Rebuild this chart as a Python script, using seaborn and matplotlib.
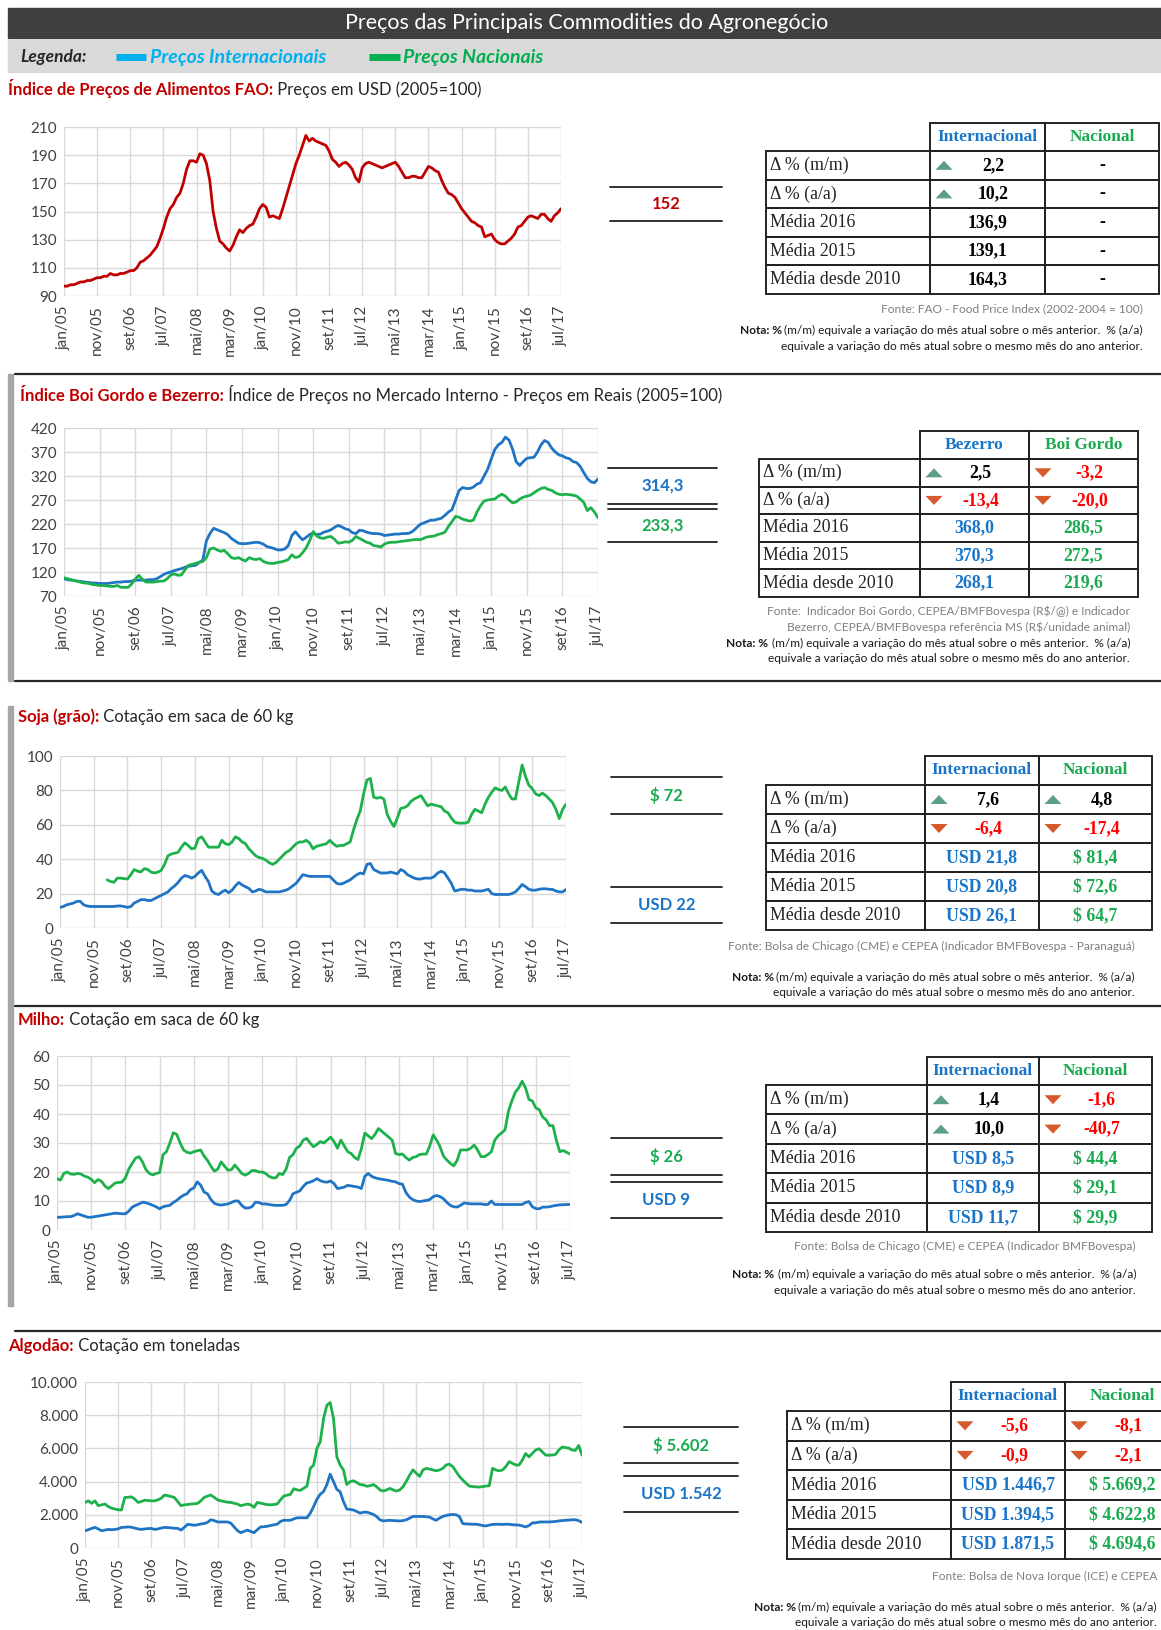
import numpy as np
import pandas as pd
import matplotlib
matplotlib.use("Agg")
import matplotlib.pyplot as plt
from matplotlib.patches import Rectangle, Polygon
import seaborn as sns

sns.set_style("white")
plt.rcParams["font.family"] = ["Lato", "DejaVu Sans"]

W, H = 1161, 1630

# ---------------- data ----------------
meses = ["jan/05", "nov/05", "set/06", "jul/07", "mai/08", "mar/09", "jan/10", "nov/10",
         "set/11", "jul/12", "mai/13", "mar/14", "jan/15", "nov/15", "set/16", "jul/17"]

fao = [97, 97, 98, 98, 99, 100, 100, 101, 101, 102, 103, 103,
       104, 104, 106, 105, 105, 106, 106, 107, 108, 108, 110, 114,
       115, 117, 119, 122, 125, 131, 138, 146, 152, 155, 160, 163,
       170, 180, 186, 186, 185, 191, 190, 184, 172, 150, 138, 129,
       127, 124, 122, 126, 132, 137, 135, 138, 140, 141, 146, 152,
       155, 153, 146, 147, 146, 145, 152, 160, 168, 176, 184, 190,
       197, 204, 200, 202, 200, 199, 198, 197, 193, 187, 185, 182,
       184, 185, 183, 180, 174, 171, 181, 184, 185, 184, 183, 182,
       181, 182, 183, 184, 185, 182, 178, 174, 174, 175, 175, 174,
       174, 178, 182, 181, 179, 178, 172, 167, 163, 162, 160, 156,
       152, 149, 146, 143, 142, 140, 139, 132, 133, 134, 130, 128,
       127, 127, 129, 131, 134, 139, 140, 143, 146, 147, 146, 145,
       148, 148, 145, 143, 147, 149, 152]

bezerro = [106, 104, 103, 102, 101, 100, 99, 98, 97, 97, 96, 96,
           96, 97, 98, 99, 99, 100, 100, 101, 103, 103, 103, 103,
           104, 104, 106, 110, 115, 118, 120, 123, 125, 127, 130, 132,
           133, 134, 140, 145, 185, 200, 211, 208, 205, 202, 198, 190,
           185, 180, 179, 179, 180, 181, 182, 181, 178, 173, 171, 169,
           166, 166, 168, 175, 196, 204, 195, 187, 192, 198, 201, 198,
           199, 203, 205, 208, 213, 217, 214, 210, 208, 202, 200, 207,
           206, 203, 201, 200, 200, 199, 196, 197, 198, 199, 199, 200,
           200, 201, 205, 212, 219, 222, 225, 228, 228, 230, 232, 238,
           245, 250, 270, 290, 296, 294, 294, 297, 303, 306, 320, 334,
           355, 375, 385, 390, 401, 395, 376, 350, 342, 350, 357, 358,
           359, 370, 385, 394, 390, 378, 370, 364, 362, 358, 356, 350,
           348, 340, 327, 315, 308, 306, 314]

boi_gordo = [108, 106, 104, 102, 100, 98, 97, 96, 94, 93, 92, 92,
             91, 90, 90, 92, 88, 88, 88, 95, 105, 113, 105, 99,
             99, 99, 100, 101, 101, 106, 114, 116, 113, 114, 125, 134,
             136, 138, 140, 142, 150, 168, 170, 166, 163, 165, 158, 150,
             148, 150, 146, 143, 150, 147, 146, 148, 142, 139, 138, 138,
             140, 141, 143, 146, 156, 150, 152, 160, 170, 185, 204, 195,
             191, 190, 193, 194, 188, 180, 181, 183, 182, 186, 194, 190,
             186, 182, 180, 175, 174, 172, 178, 181, 182, 182, 183, 184,
             185, 186, 187, 188, 187, 190, 193, 194, 195, 198, 200, 203,
             215, 225, 236, 234, 230, 228, 226, 228, 245, 258, 268, 270,
             271, 272, 278, 282, 278, 270, 264, 266, 272, 276, 278, 280,
             285, 290, 294, 296, 292, 290, 285, 282, 281, 282, 281, 280,
             278, 272, 265, 248, 254, 245, 233]

soja_int = [12, 12.5, 13.5, 14, 14.5, 15.5, 15.5, 13.5, 12.8, 12.5, 12.5, 12.5,
            12.5, 12.5, 12.5, 12.5, 12.5, 12.8, 12.8, 12.5, 12, 12.5, 14.5, 15.5,
            16.5, 16.5, 16, 16, 17, 18, 19, 20, 21, 23, 24.5, 26.5,
            29, 30.5, 30, 29, 30, 32, 33.5, 30, 27, 21.5, 20, 19.5,
            21, 22, 20.5, 22, 24.5, 26.5, 25, 24, 23, 21, 21.5, 22.5,
            22, 21, 21, 21, 21, 21, 21.5, 22, 23, 24.5, 26, 28.5,
            31, 30.5, 30, 30, 30, 30, 30, 30, 30, 28, 26, 25.5,
            26, 27, 28, 29.5, 31, 32, 31.5, 37, 37.5, 34, 33, 32,
            32, 32, 32.5, 32, 31.5, 34, 33, 31, 30, 29, 28.5, 28.5,
            29, 29, 29, 30, 32, 33, 32, 29, 26, 21.5, 22, 22.5,
            22.5, 22, 22, 21.5, 21.5, 21.5, 22, 22.5, 20, 19.5, 19.5, 19.5,
            19.5, 19.5, 20, 21, 23, 25.3, 24, 22.5, 22, 22, 22.5, 22.8,
            22.8, 22.5, 22.4, 21.5, 21, 21, 22.4]

soja_nac = [np.nan] * 14 + [
            28, 27, 26.6, 29, 29, 28.7, 28.5, 31, 34, 33,
            32.6, 34.5, 34, 32.5, 32, 32.5, 33.5, 37, 42, 43, 43.5, 44,
            47, 49.5, 48, 46, 46.5, 52, 53, 50, 47, 47, 47, 47,
            51, 49, 48.5, 50, 53, 52, 50, 49, 46, 44, 42, 41,
            40.5, 39.5, 38, 37, 38, 40, 42, 44, 45, 47, 49, 50,
            50, 51, 49.5, 46, 47.5, 48, 48.5, 49, 51, 49, 47.5, 48,
            48, 49, 50, 57, 63, 68, 78, 86, 87, 76, 75.5, 76,
            75, 66, 62, 59, 64, 69.5, 70, 71, 73.5, 75, 76, 77,
            74, 71, 72, 71.5, 71, 70.5, 68, 67, 64, 61.5, 61, 61,
            61, 61.5, 66, 69, 68, 67, 72, 76, 79, 81.5, 80.5, 80,
            82, 78, 75, 75, 85, 94.8, 88, 83, 81, 78, 77, 78.4,
            77, 75, 73, 69, 63.6, 69, 72]

milho_int = [4.4, 4.4, 4.5, 4.6, 4.6, 5, 5.6, 5.2, 4.8, 4.4, 4.4, 4.6,
             4.8, 5, 5.2, 5.4, 5.6, 5.8, 5.7, 5.6, 5.6, 6.5, 7.9, 8.5,
             9, 9.6, 9.4, 9, 8.5, 8, 7.3, 8, 8.3, 8.5, 9.5, 10.2,
             11.2, 12, 12.5, 13.9, 14.5, 16.6, 15.5, 13.1, 12.5, 10.5, 9.2, 8.8,
             8.6, 8.8, 9, 9.5, 10, 10, 8.5, 7.6, 7.6, 8, 9.6, 9.5,
             9, 9, 8.8, 8.6, 8.5, 8.5, 8.5, 8.8, 10.2, 12.5, 13, 13.5,
             15, 16.2, 16.5, 17, 17.7, 17, 16.6, 16.5, 16.9, 16, 14.3, 14.5,
             14.8, 15.4, 15.2, 15, 14.8, 14.3, 18.5, 19.5, 18.5, 18, 17.7, 17.5,
             17.3, 17.1, 16.8, 16.6, 16, 15.8, 13, 11.4, 10.5, 10, 9.8, 10,
             10.2, 10.5, 11.5, 11.9, 11.5, 10.8, 9.5, 8.5, 8, 7.9, 8.5, 9.3,
             9.2, 9, 9, 9, 9, 8.8, 8.8, 10, 8.8, 8.8, 8.8, 8.8,
             8.8, 8.8, 8.8, 8.8, 8.8, 9.5, 9.8, 8, 7.4, 7.3, 7.9, 7.9,
             8, 8.3, 8.5, 8.7, 8.7, 8.8, 8.8]

milho_nac = [17.7, 17.2, 19.5, 20, 19.3, 19.2, 19.5, 19.3, 18.6, 18.2, 17.5, 16.3,
             17.4, 16.8, 15.2, 14.3, 15.2, 16.2, 16.4, 16.5, 18, 21, 23, 24.8,
             25.3, 23.5, 20.8, 19.5, 19, 19.5, 19.8, 26, 27, 30, 33.5, 33,
             30, 27.6, 26.8, 26.5, 27, 27.3, 27.6, 25.5, 24, 22, 20.3, 21,
             23.5, 22, 20.6, 20.8, 22.4, 21, 19.5, 18.9, 19.5, 20.5, 20.5, 20,
             20, 19.5, 18.5, 18, 18, 19.5, 19.1, 21, 25, 26, 28.2, 29,
             31, 31.6, 30, 28.7, 29.5, 30.5, 30, 31, 32, 30.5, 28.2, 31,
             29, 27, 26.4, 25, 24.3, 28, 33.4, 32.5, 31.5, 33, 35, 34,
             33, 32, 31, 26.4, 26, 26.2, 25, 24.1, 25, 25.3, 26, 26.2,
             26.2, 29, 32.8, 31, 28.7, 25.5, 24.1, 23, 22.1, 24, 27.6, 27.6,
             27.6, 28.2, 29.3, 27.5, 25.3, 25.3, 26, 27, 31, 32.5, 33.5, 34.5,
             41, 44.5, 47.5, 49, 51.3, 49, 45, 44.5, 42.1, 41.5, 39, 38,
             36, 36, 31, 27, 27.4, 26.8, 26.2]

algodao_int = [1040, 1100, 1180, 1240, 1150, 1040, 1080, 1120, 1100, 1120, 1150, 1240,
               1250, 1270, 1250, 1200, 1150, 1120, 1150, 1170, 1180, 1120, 1150, 1200,
               1240, 1230, 1210, 1190, 1180, 1080, 1250, 1430, 1400, 1370, 1400, 1450,
               1470, 1550, 1700, 1650, 1570, 1570, 1570, 1570, 1500, 1270, 1050, 920,
               1000, 1080, 1000, 920, 1100, 1270, 1280, 1310, 1350, 1400, 1430, 1600,
               1670, 1670, 1670, 1750, 1820, 1820, 1820, 1820, 2100, 2500, 2940, 3240,
               3400, 3820, 4450, 4000, 3530, 3390, 2800, 2350, 2320, 2290, 2200, 2100,
               2150, 2160, 2100, 2020, 1900, 1700, 1630, 1650, 1670, 1650, 1640, 1630,
               1650, 1700, 1800, 1900, 1900, 1900, 1900, 1880, 1860, 1750, 1670, 1800,
               1900, 1960, 2000, 2020, 2000, 1900, 1470, 1450, 1440, 1430, 1430, 1400,
               1350, 1330, 1380, 1420, 1430, 1430, 1420, 1430, 1430, 1400, 1390, 1380,
               1330, 1270, 1350, 1510, 1520, 1560, 1570, 1570, 1570, 1580, 1600, 1630,
               1650, 1670, 1680, 1700, 1700, 1650, 1540]

algodao_nac = [2745, 2840, 2690, 2840, 2550, 2600, 2650, 2500, 2400, 2350, 2300, 2290,
               3040, 3060, 3080, 2950, 2745, 2800, 2880, 2860, 2840, 2840, 2900, 3000,
               3190, 3150, 3100, 3040, 2800, 2550, 2600, 2620, 2650, 2660, 2690, 2850,
               3050, 3130, 3190, 3050, 2900, 2840, 2800, 2760, 2745, 2700, 2650, 2550,
               2600, 2650, 2600, 2450, 2745, 2700, 2650, 2610, 2600, 2620, 2650, 2900,
               3130, 3180, 3230, 3570, 3500, 3470, 3600, 3730, 4800, 5000, 6000, 6400,
               7800, 8600, 8760, 7800, 5500, 5000, 4700, 3820, 4000, 4050, 3950, 3820,
               3800, 3720, 3750, 3820, 3700, 3500, 3430, 3500, 3590, 3500, 3430, 3500,
               3700, 4020, 4400, 4710, 4500, 4310, 4700, 4800, 4750, 4700, 4650, 4700,
               4800, 5000, 5050, 4900, 4600, 4310, 4100, 3900, 3730, 3700, 3680, 3670,
               3700, 3730, 3750, 4800, 4700, 4650, 4700, 4900, 5200, 5100, 5000, 5000,
               5300, 5690, 5490, 5700, 5900, 5980, 5800, 5600, 5590, 5600, 5630, 5900,
               6080, 6050, 6020, 5900, 5880, 6180, 5590]

linhas = ["Δ % (m/m)", "Δ % (a/a)", "Média 2016", "Média 2015", "Média desde 2010"]
fao_int_tab = ["2,2", "10,2", "136,9", "139,1", "164,3"]
fao_nac_tab = ["-", "-", "-", "-", "-"]
bezerro_tab = ["2,5", "-13,4", "368,0", "370,3", "268,1"]
boi_tab = ["-3,2", "-20,0", "286,5", "272,5", "219,6"]
soja_int_tab = ["7,6", "-6,4", "USD 21,8", "USD 20,8", "USD 26,1"]
soja_nac_tab = ["4,8", "-17,4", "$ 81,4", "$ 72,6", "$ 64,7"]
milho_int_tab = ["1,4", "10,0", "USD 8,5", "USD 8,9", "USD 11,7"]
milho_nac_tab = ["-1,6", "-40,7", "$ 44,4", "$ 29,1", "$ 29,9"]
algodao_int_tab = ["-5,6", "-0,9", "USD 1.446,7", "USD 1.394,5", "USD 1.871,5"]
algodao_nac_tab = ["-8,1", "-2,1", "$ 5.669,2", "$ 4.622,8", "$ 4.694,6"]

# ---------------- colours ----------------
RED = "#c00000"
BLUE = "#1f74c4"
GREEN = "#1db14b"
BLUE_T = "#1a75c8"
GREEN_T = "#1aaa50"
UP = "#5c9e86"
DOWN = "#d65a2c"
GRID = "#d9d9d9"
TXT = "#404040"
SERIF = ["Liberation Serif", "DejaVu Serif"]

fig = plt.figure(figsize=(W / 100, H / 100), dpi=100)
bg = fig.add_axes([0, 0, 1, 1], zorder=0)
bg.set_xlim(0, W)
bg.set_ylim(H, 0)
bg.axis("off")


def px(x0, y0, x1, y1):
    return [x0 / W, 1 - y1 / H, (x1 - x0) / W, (y1 - y0) / H]


def grafico(x0, y0, x1, y1, series, ylim, yticks, ylabels):
    ax = fig.add_axes(px(x0, y0, x1, y1), zorder=2)
    for vals, color in series:
        df = pd.DataFrame({"mes": np.arange(len(vals)), "valor": vals})
        sns.lineplot(data=df, x="mes", y="valor", color=color, linewidth=2.0, ax=ax)
    ax.set_xlim(0, 150)
    ax.set_ylim(*ylim)
    ax.set_xticks(range(0, 151, 10))
    ax.set_xticklabels(meses, rotation=90)
    ax.set_yticks(yticks)
    ax.set_yticklabels(ylabels)
    ax.grid(True, color=GRID, linewidth=1)
    for s in ax.spines.values():
        s.set_visible(False)
    ax.set_xlabel("")
    ax.set_ylabel("")
    ax.tick_params(length=0, labelsize=11, colors=TXT)
    ax.tick_params(axis="x", pad=7)
    ax.tick_params(axis="y", pad=5)
    ax.patch.set_alpha(0)
    return ax


def titulo(x, y, red, rest):
    t = bg.text(x, y, red, color=RED, fontsize=12, fontweight="bold", va="center", ha="left")
    bg.annotate(" " + rest, xy=(1, 0), xycoords=t, va="bottom", ha="left",
                fontsize=12, color="#262626")


def caixa(x0, x1, yt, yb, text, color):
    bg.plot([x0, x1], [yt, yt], color="#222222", lw=1.3)
    bg.plot([x0, x1], [yb, yb], color="#222222", lw=1.3)
    bg.text((x0 + x1) / 2, (yt + yb) / 2, text, color=color, fontsize=12,
            fontweight="bold", ha="center", va="center")


def triangulo(cx, cy, down):
    w, h = 17, 9
    if down:
        pts = [(cx - w / 2, cy - h / 2), (cx + w / 2, cy - h / 2), (cx, cy + h / 2)]
    else:
        pts = [(cx - w / 2, cy + h / 2), (cx + w / 2, cy + h / 2), (cx, cy - h / 2)]
    bg.add_patch(Polygon(pts, closed=True, color=DOWN if down else UP, lw=0))


def tabela(xs, yh, yb, ye, heads, c1, c2, cores):
    x0, x1, x2, x3 = xs
    for (a, b), hd, cc in zip([(x1, x2), (x2, x3)], heads, [BLUE_T, GREEN_T]):
        bg.add_patch(Rectangle((a, yh), b - a, yb - yh, fill=False, ec="#222222", lw=1.4))
        bg.text((a + b) / 2, (yh + yb) / 2, hd, color=cc, fontsize=12.5, fontweight="bold",
                family=SERIF, ha="center", va="center")
    rh = (ye - yb) / 5
    for i in range(5):
        y = yb + i * rh
        cy = y + rh / 2
        for a, b in [(x0, x1), (x1, x2), (x2, x3)]:
            bg.add_patch(Rectangle((a, y), b - a, rh, fill=False, ec="#222222", lw=1.4))
        bg.text(x0 + 4, cy, linhas[i], fontsize=12.8, family=SERIF, color="#222222",
                ha="left", va="center")
        for (a, b), v, cm in zip([(x1, x2), (x2, x3)], [c1[i], c2[i]], cores):
            if i < 2 and v != "-":
                down = v.startswith("-")
                triangulo(a + 14, cy, down)
                bg.text((a + b) / 2 + 6, cy, v, color="#ff0000" if down else "black",
                        fontsize=12.8, fontweight="bold", family=SERIF, ha="center", va="center")
            else:
                col = cm if i >= 2 else "black"
                bg.text((a + b) / 2, cy, v, color=col, fontsize=12.8, fontweight="bold",
                        family=SERIF, ha="center", va="center")


def nota(xr, y):
    t = bg.text(xr, y, "(m/m) equivale a variação do mês atual sobre o mês anterior.  % (a/a)",
                ha="right", va="center", fontsize=8.6, color="#1a1a1a")
    bg.annotate("Nota: % ", xy=(0, 0), xycoords=t, ha="right", va="bottom", fontsize=8.6,
                fontweight="bold", color="#1a1a1a")
    bg.text(xr, y + 16, "equivale a variação do mês atual sobre o mesmo mês do ano anterior.",
            ha="right", va="center", fontsize=8.6, color="#1a1a1a")


def fonte(xr, y, text):
    bg.text(xr, y, text, ha="right", va="center", fontsize=8.6, color="#7f7f7f")


# ---------------- header ----------------
bg.add_patch(Rectangle((8, 8), W - 8, 30, color="#3f3f3f"))
bg.text(587, 23, "Preços das Principais Commodities do Agronegócio", color="white",
        fontsize=15.5, ha="center", va="center")
bg.add_patch(Rectangle((8, 40), W - 8, 32, color="#d9d9d9"))
bg.text(20, 57, "Legenda:", fontsize=12.5, fontweight="bold", style="italic", va="center")
bg.plot([116, 146], [57, 57], color="#00b0f0", lw=5, solid_capstyle="butt")
bg.text(150, 57, "Preços Internacionais", fontsize=14, fontweight="bold", style="italic",
        color="#00b0f0", va="center")
bg.plot([369, 400], [57, 57], color="#00b050", lw=5, solid_capstyle="butt")
bg.text(403, 57, "Preços Nacionais", fontsize=14, fontweight="bold", style="italic",
        color="#00b050", va="center")

# gray side bars and separators
bg.add_patch(Rectangle((8, 374), 5, 307, color="#a6a6a6"))
bg.add_patch(Rectangle((8, 706), 5, 600, color="#a6a6a6"))
for yy in [374, 681, 1006, 1331]:
    bg.plot([15, W], [yy, yy], color="#262626", lw=1.6)

# ---------------- section 1: FAO ----------------
titulo(8, 88, "Índice de Preços de Alimentos FAO:", "Preços em USD (2005=100)")
grafico(64, 127, 561, 296, [(fao, RED)], (90, 210), range(90, 211, 20),
        [str(v) for v in range(90, 211, 20)])
caixa(610, 722, 187, 221, "152", RED)
tabela((766, 930, 1045, 1159), 123, 151, 294, ("Internacional", "Nacional"),
       fao_int_tab, fao_nac_tab, ("black", "black"))
fonte(1143, 309, "Fonte: FAO - Food Price Index (2002-2004 = 100)")
nota(1143, 330)

# ---------------- section 2: Boi ----------------
titulo(20, 396, "Índice Boi Gordo e Bezerro:",
       "Índice de Preços no Mercado Interno - Preços em Reais (2005=100)")
grafico(64, 428, 598, 596, [(bezerro, BLUE), (boi_gordo, GREEN)], (70, 420),
        range(70, 421, 50), [str(v) for v in range(70, 421, 50)])
caixa(608, 717, 468, 504, "314,3", BLUE_T)
caixa(608, 717, 509, 542, "233,3", GREEN_T)
tabela((759, 920, 1029, 1138), 431, 459, 597, ("Bezerro", "Boi Gordo"),
       bezerro_tab, boi_tab, (BLUE_T, GREEN_T))
fonte(1130, 611, "Fonte:  Indicador Boi Gordo, CEPEA/BMFBovespa (R$/@) e Indicador")
fonte(1130, 627, "Bezerro, CEPEA/BMFBovespa referência MS (R$/unidade animal)")
nota(1130, 643)

# ---------------- section 3: Soja ----------------
titulo(18, 717, "Soja (grão):", "Cotação em saca de 60 kg")
grafico(60, 756, 566, 928, [(soja_int, BLUE), (soja_nac, GREEN)], (0, 100),
        range(0, 101, 20), [str(v) for v in range(0, 101, 20)])
caixa(611, 722, 777, 814, "$ 72", GREEN_T)
caixa(611, 722, 887, 923, "USD 22", BLUE_T)
tabela((766, 925, 1039, 1152), 756, 785, 930, ("Internacional", "Nacional"),
       soja_int_tab, soja_nac_tab, (BLUE_T, GREEN_T))
fonte(1135, 946, "Fonte: Bolsa de Chicago (CME) e CEPEA (Indicador BMFBovespa - Paranaguá)")
nota(1135, 977)

# ---------------- section 4: Milho ----------------
titulo(18, 1020, "Milho:", "Cotação em saca de 60 kg")
grafico(57, 1056, 570, 1230, [(milho_int, BLUE), (milho_nac, GREEN)], (0, 60),
        range(0, 61, 10), [str(v) for v in range(0, 61, 10)])
caixa(611, 722, 1138, 1175, "$ 26", GREEN_T)
caixa(611, 722, 1182, 1218, "USD 9", BLUE_T)
tabela((766, 927, 1039, 1152), 1057, 1085, 1232, ("Internacional", "Nacional"),
       milho_int_tab, milho_nac_tab, (BLUE_T, GREEN_T))
fonte(1136, 1246, "Fonte: Bolsa de Chicago (CME) e CEPEA (Indicador BMFBovespa)")
nota(1136, 1274)

# ---------------- section 5: Algodao ----------------
titulo(8, 1346, "Algodão:", "Cotação em toneladas")
grafico(85, 1382, 582, 1548, [(algodao_int, BLUE), (algodao_nac, GREEN)], (0, 10000),
        range(0, 10001, 2000), ["0", "2.000", "4.000", "6.000", "8.000", "10.000"])
caixa(624, 738, 1427, 1463, "$ 5.602", GREEN_T)
caixa(624, 738, 1476, 1512, "USD 1.542", BLUE_T)
tabela((787, 951, 1065, 1180), 1382, 1411, 1559, ("Internacional", "Nacional"),
       algodao_int_tab, algodao_nac_tab, (BLUE_T, GREEN_T))
fonte(1157, 1576, "Fonte: Bolsa de Nova Iorque (ICE) e CEPEA")
nota(1157, 1607)

fig.savefig("out.png", dpi=100)
